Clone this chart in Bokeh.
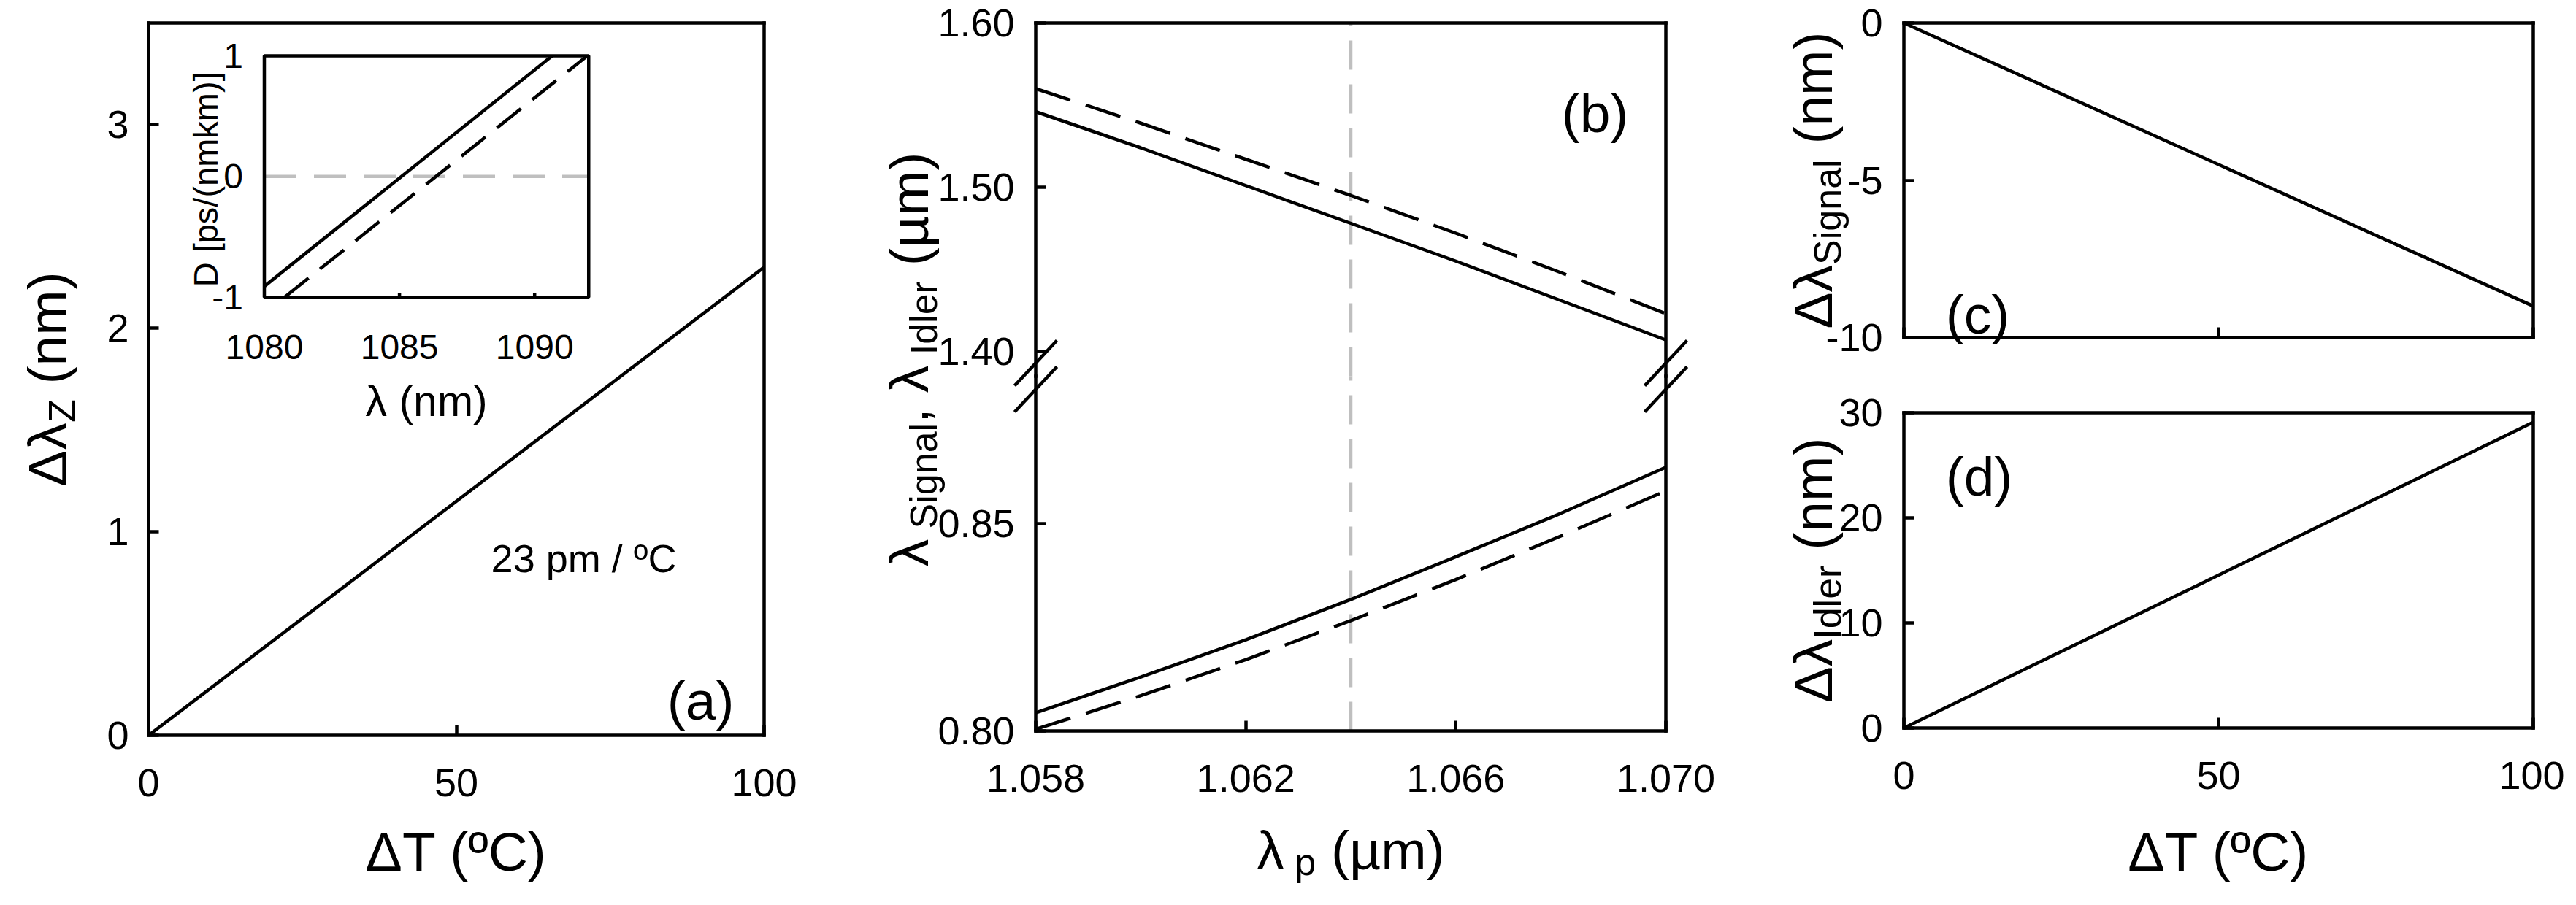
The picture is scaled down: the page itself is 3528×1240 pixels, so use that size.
from math import pi
from bokeh.plotting import figure
from bokeh.models import Range1d, LinearAxis, FixedTicker, NumeralTickFormatter, Label
from bokeh.layouts import row, column
from bokeh.embed import file_html
from bokeh.resources import INLINE
from bokeh.core.properties import value

# ---------------- data ----------------
dT = [0, 100]                         # temperature change (ºC)
dlam_z = [0.0, 2.3]                   # (a) zero-dispersion shift (nm)
inset_solid_lam = [1080.0, 1090.65]   # inset, solid curve
inset_solid_D = [-0.91, 1.0]
inset_dash_lam = [1080.75, 1091.95]   # inset, dashed curve
inset_dash_D = [-1.0, 1.0]
INSET_XLIM = (1080, 1092)
INSET_YLIM = (-1, 1)

lam_p = [1.058, 1.060, 1.062, 1.064, 1.066, 1.068, 1.070]
idler_solid = [1.546, 1.524, 1.501, 1.478, 1.455, 1.431, 1.407]
idler_dash = [1.560, 1.539, 1.517, 1.495, 1.472, 1.448, 1.423]
signal_solid = [0.8044, 0.8130, 0.8220, 0.8317, 0.8420, 0.8525, 0.8636]
signal_dash = [0.8004, 0.8085, 0.8172, 0.8266, 0.8365, 0.8470, 0.8579]
lam_p_marker = 1.064

dlam_signal = [0.0, -9.0]
dlam_idler = [0.0, 29.1]

A_XLIM, A_YLIM = (0, 100), (0, 3.5)
B_XLIM = (1.058, 1.070)
C_XLIM, C_YLIM = (0, 100), (-10, 0)
D_XLIM, D_YLIM = (0, 100), (0, 30)

a_xticks = [0, 50, 100]
a_yticks = [0, 1, 2, 3]
inset_xticks = [1080, 1085, 1090]
inset_yticks = [-1, 0, 1]
inset_xlabels = ["1080", "1085", "1090"]
inset_ylabels = ["-1", "0", "1"]
b_xticks = [1.058, 1.062, 1.066, 1.070]
b_upper_ticks = [1.40, 1.50, 1.60]
b_lower_ticks = [0.80, 0.85]
c_xticks = [0, 50, 100]
c_yticks = [-10, -5, 0]
d_xticks = [0, 50, 100]
d_yticks = [0, 10, 20, 30]

# ---------------- style ----------------
FONT = "Liberation Sans"
LW = 4.5
TICK = 14
TICK_FS = "54px"
TITLE = 75
SUB = 52
DROP = 20
GRAY = "#bfbfbf"

CW = {' ': 0.278, '(': 0.333, ')': 0.333, 'n': 0.556, 'm': 0.833, 'Δ': 0.668,
      'λ': 0.5, 'µ': 0.576, 'S': 0.667, 'i': 0.222, 'g': 0.556, 'a': 0.556,
      'l': 0.222, 'I': 0.278, 'd': 0.556, 'e': 0.556, 'r': 0.333, 'Z': 0.611,
      'p': 0.556, ',': 0.278, 'T': 0.611, 'º': 0.365, 'C': 0.722}


def tw(s, size):
    return sum(CW.get(c, 0.556) for c in s) * size


def lin(pa, va, pb, vb):
    s = (vb - va) / (pb - pa)
    return lambda q: va + (q - pa) * s


def make_panel(box, fx, fy):
    """Figure whose frame is its whole canvas; fx/fy give (page, value) pairs."""
    cx0, cy0, cx1, cy1 = box
    X, Y = lin(*fx), lin(*fy)
    p = figure(width=cx1 - cx0, height=cy1 - cy0,
               x_range=Range1d(X(cx0), X(cx1)), y_range=Range1d(Y(cy1), Y(cy0)),
               output_backend="svg", toolbar_location=None, title=None,
               x_axis_location=None, y_axis_location=None, min_border=0)
    p.xgrid.visible = False
    p.ygrid.visible = False
    p.outline_line_color = None
    p.background_fill_color = "white"
    p.border_fill_color = "white"
    return p, (lambda px, py: (X(px), Y(py))), X, Y


def add_axis(p, side, loc, bounds, ticks=None, fmt="0", standoff=28, labels=True, **names):
    ax = LinearAxis(fixed_location=loc, bounds=bounds, **names)
    ax.axis_line_color = "black"
    ax.axis_line_width = LW
    ax.axis_line_cap = "square"
    ax.minor_tick_line_color = None
    if ticks is None:
        ax.ticker = FixedTicker(ticks=[])
        ax.major_tick_line_color = None
        ax.major_label_text_color = None
    else:
        ax.ticker = FixedTicker(ticks=ticks)
        ax.formatter = NumeralTickFormatter(format=fmt)
        ax.major_tick_line_color = "black"
        ax.major_tick_line_width = LW
        ax.major_tick_in = TICK
        ax.major_tick_out = 0
        ax.major_label_text_font = FONT
        ax.major_label_text_font_size = TICK_FS
        ax.major_label_text_color = "black" if labels else None
        ax.major_label_standoff = standoff
    p.add_layout(ax, side)
    return ax


def box_axes(p, xlim, ylim, xticks, yticks, xfmt, yfmt, xlabels=True, xstand=46, ystand=27):
    add_axis(p, "below", ylim[0], xlim, xticks, xfmt, xstand, xlabels)
    add_axis(p, "left", xlim[0], ylim, yticks, yfmt, ystand)
    add_axis(p, "above", ylim[1], xlim)
    add_axis(p, "right", xlim[1], ylim)


def label(p, m, px, py, text, size, align="center", angle=0.0):
    x, y = m(px, py)
    p.add_layout(Label(x=x, y=y, text=text, angle=angle, text_align=align,
                       text_baseline="alphabetic", text_font=FONT,
                       text_font_size=f"{size}px", text_color="black"))


def rich(p, m, parts, center, base, vertical):
    total = sum(tw(t, s) for t, s, _ in parts)
    pos = center + total / 2 if vertical else center - total / 2
    for text, size, drop in parts:
        body = text.lstrip(' ')
        adv = (len(text) - len(body)) * CW[' '] * size
        if vertical:
            pos -= adv
            label(p, m, base + drop, pos, body, size, align="left", angle=pi / 2)
            pos -= tw(body, size)
        else:
            pos += adv
            label(p, m, pos, base + drop, body, size, align="left")
            pos += tw(body, size)


# ---------------- layout (page px) ----------------
A_BOX, A_FR = (8, 8, 1180, 1232), (211, 39, 1054, 1015)
B_BOX = (1180, 8, 2389, 1232)
B_L, B_R, B_T, B_BRK, B_B = 1426, 2289, 39, 523, 1009
C_BOX, C_FR = (2389, 8, 3520, 521), (2615, 39, 3477, 470)
D_BOX, D_FR = (2389, 521, 3520, 1232), (2615, 573, 3477, 1005)
B_TOP_LO = 1.60 - (B_BRK - B_T) / 2250.0
B_BOT_HI = 0.80 + (B_B - B_BRK) / 5680.0
XT_BASE = 1174   # baseline of the x-axis titles

# ---------------- panel (a) ----------------
fa, ma, XA, YA = make_panel(A_BOX, (A_FR[0], A_XLIM[0], A_FR[2], A_XLIM[1]),
                            (A_FR[3], A_YLIM[0], A_FR[1], A_YLIM[1]))
box_axes(fa, A_XLIM, A_YLIM, a_xticks, a_yticks, "0", "0")
fa.line(dT, dlam_z, line_color="black", line_width=LW)

# inset: its own ranges through extra ranges
aw, ah = A_FR[2] - A_FR[0], A_FR[3] - A_FR[1]
il, ir = A_FR[0] + 0.188 * aw, A_FR[0] + 0.715 * aw
it, ib = A_FR[1] + 0.046 * ah, A_FR[1] + 0.385 * ah
XI = lin(il, INSET_XLIM[0], ir, INSET_XLIM[1])
YI = lin(ib, INSET_YLIM[0], it, INSET_YLIM[1])
fa.extra_x_ranges = {"ix": Range1d(XI(A_BOX[0]), XI(A_BOX[2]))}
fa.extra_y_ranges = {"iy": Range1d(YI(A_BOX[3]), YI(A_BOX[1]))}
IK = dict(x_range_name="ix", y_range_name="iy")
fa.quad(left=INSET_XLIM[0], right=INSET_XLIM[1], bottom=INSET_YLIM[0], top=INSET_YLIM[1],
        fill_color="white", line_color=None, **IK)
fa.line(list(INSET_XLIM), [0, 0], line_color=GRAY, line_width=LW, line_dash="44 24", **IK)
fa.line(inset_solid_lam, inset_solid_D, line_color="black", line_width=LW, **IK)
fa.line(inset_dash_lam, inset_dash_D, line_color="black", line_width=LW,
        line_dash="42 20", **IK)
fa.segment(x0=inset_xticks[1:], y0=[INSET_YLIM[0]] * 2, x1=inset_xticks[1:],
           y1=[YI(ib - 6)] * 2, line_color="black", line_width=LW, **IK)
fa.quad(left=INSET_XLIM[0], right=INSET_XLIM[1], bottom=INSET_YLIM[0], top=INSET_YLIM[1],
        fill_color=None, line_color="black", line_width=LW, **IK)
fa.text(x=inset_xticks, y=[YI(ib + 68)] * 3, text=inset_xlabels,
        text_align="center", text_baseline="alphabetic", text_font=value(FONT),
        text_font_size="48px", text_color="black", **IK)
fa.text(x=[XI(il - 29)] * 3, y=inset_yticks, text=inset_ylabels,
        text_align="right", text_baseline="middle", text_font=value(FONT),
        text_font_size="48px", text_color="black", **IK)
label(fa, ma, (il + ir) / 2, ib + 143, "λ (nm)", 59)
label(fa, ma, il - 80, (it + ib) / 2 + 4, "D [ps/(nmkm)]", 47, angle=pi / 2)

label(fa, ma, (A_FR[0] + A_FR[2]) / 2, XT_BASE, "ΔT (ºC)", TITLE)
rich(fa, ma, [("Δλ", TITLE, 0), ("Z", SUB, DROP), (" (nm)", TITLE, 0)],
     (A_FR[1] + A_FR[3]) / 2, 72, True)
label(fa, ma, A_FR[0] + 0.707 * aw, 772, "23 pm / ºC", 54)
label(fa, ma, A_FR[0] + 0.897 * aw, 967, "(a)", TITLE)

# ---------------- panel (b): broken y axis ----------------
fb, mb, XB, YB = make_panel(B_BOX, (B_L, B_XLIM[0], B_R, B_XLIM[1]),
                            (B_B, 0.80, B_BRK, B_BOT_HI))
YU = lin(B_BRK, B_TOP_LO, B_T, 1.60)
fb.extra_y_ranges = {"up": Range1d(YU(B_BOX[3]), YU(B_BOX[1]))}
UP = dict(y_range_name="up")
add_axis(fb, "below", 0.80, B_XLIM, b_xticks, "0.000", 46)
add_axis(fb, "left", B_XLIM[0], (0.80, B_BOT_HI), b_lower_ticks, "0.00", 29)
add_axis(fb, "left", B_XLIM[0], (B_TOP_LO, 1.60), b_upper_ticks, "0.00", 29, **UP)
add_axis(fb, "right", B_XLIM[1], (0.80, B_BOT_HI))
add_axis(fb, "right", B_XLIM[1], (B_TOP_LO, 1.60), **UP)
add_axis(fb, "above", 1.60, B_XLIM, **UP)

fb.segment(x0=[lam_p_marker], y0=[0.80], x1=[lam_p_marker], y1=[B_BOT_HI],
           line_color=GRAY, line_width=LW, line_dash="40 20")
fb.segment(x0=[lam_p_marker], y0=[B_TOP_LO], x1=[lam_p_marker], y1=[1.60],
           line_color=GRAY, line_width=LW, line_dash="40 20", **UP)
fb.line(lam_p, idler_solid, line_color="black", line_width=LW, **UP)
fb.line(lam_p, idler_dash, line_color="black", line_width=LW, line_dash="50 22", **UP)
fb.line(lam_p, signal_solid, line_color="black", line_width=LW)
fb.line(lam_p, signal_dash, line_color="black", line_width=LW, line_dash="50 22")

# axis-break marks "//" on both sides
bx0, by0, bx1, by1 = [], [], [], []
for axx in (B_L, B_R):
    for c in (B_BRK - 18, B_BRK + 18):
        x0, y0 = mb(axx - 29, c + 31)
        x1, y1 = mb(axx + 29, c - 31)
        bx0.append(x0); by0.append(y0); bx1.append(x1); by1.append(y1)
fb.segment(x0=bx0, y0=by0, x1=bx1, y1=by1, line_color="black", line_width=LW)

label(fb, mb, 2192, 162, "(b)", TITLE)
rich(fb, mb, [("λ", TITLE, 0), (" Signal", SUB, DROP), (", λ", TITLE, 0),
              (" Idler", SUB, DROP), (" (µm)", TITLE, 0)],
     500, 1252, True)
rich(fb, mb, [("λ", TITLE, 0), (" p", SUB, 16), (" (µm)", TITLE, 0)],
     (B_L + B_R) / 2, XT_BASE - 2, False)

# ---------------- panel (c) ----------------
fc, mc, XC, YC = make_panel(C_BOX, (C_FR[0], C_XLIM[0], C_FR[2], C_XLIM[1]),
                            (C_FR[3], C_YLIM[0], C_FR[1], C_YLIM[1]))
box_axes(fc, C_XLIM, C_YLIM, c_xticks, c_yticks, "0", "0", xlabels=False, ystand=29)
fc.line(dT, dlam_signal, line_color="black", line_width=LW)
rich(fc, mc, [("Δλ", TITLE, 0), ("Signal", SUB, DROP), (" (nm)", TITLE, 0)],
     (C_FR[1] + C_FR[3]) / 2, 2490, True)
label(fc, mc, 2716, 438, "(c)", TITLE)

# ---------------- panel (d) ----------------
fd, md, XD, YD = make_panel(D_BOX, (D_FR[0], D_XLIM[0], D_FR[2], D_XLIM[1]),
                            (D_FR[3], D_YLIM[0], D_FR[1], D_YLIM[1]))
box_axes(fd, D_XLIM, D_YLIM, d_xticks, d_yticks, "0", "0", ystand=29)
fd.line(dT, dlam_idler, line_color="black", line_width=LW)
rich(fd, md, [("Δλ", TITLE, 0), ("Idler", SUB, DROP), (" (nm)", TITLE, 0)],
     (D_FR[1] + D_FR[3]) / 2, 2490, True)
label(fd, md, (D_FR[0] + D_FR[2]) / 2, XT_BASE, "ΔT (ºC)", TITLE)
label(fd, md, 2718, 660, "(d)", TITLE)

layout = row(fa, fb, column(fc, fd))
open("out.html", "w").write(file_html(layout, INLINE))
